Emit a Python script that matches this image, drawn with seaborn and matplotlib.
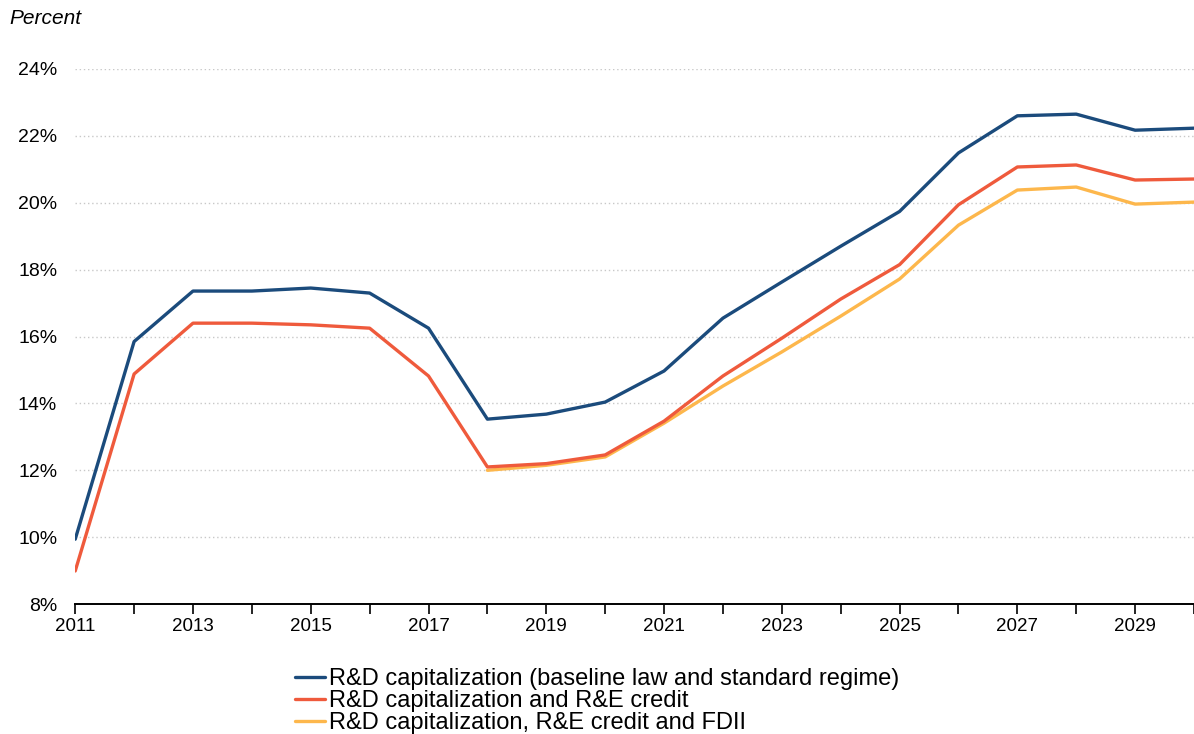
import matplotlib
matplotlib.use("Agg")
import matplotlib.pyplot as plt
from matplotlib.ticker import MultipleLocator, FuncFormatter
import seaborn as sns
import pandas as pd

# Data
years = list(range(2011, 2031))
baseline = [9.94, 15.85, 17.36, 17.36, 17.45, 17.30, 16.25, 13.53, 13.68, 14.04,
            14.97, 16.55, 17.63, 18.70, 19.74, 21.49, 22.60, 22.65, 22.17, 22.23]
re_credit = [8.99, 14.88, 16.40, 16.40, 16.35, 16.25, 14.82, 12.10, 12.20, 12.46,
             13.47, 14.82, 15.95, 17.12, 18.15, 19.94, 21.07, 21.13, 20.68, 20.71]
fdii_years = list(range(2018, 2031))
fdii = [12.00, 12.15, 12.40, 13.41, 14.52, 15.54, 16.61, 17.72, 19.33, 20.38,
        20.47, 19.96, 20.02]
xtick_years = years[::2]

labels = ["R&D capitalization (baseline law and standard regime)",
          "R&D capitalization and R&E credit",
          "R&D capitalization, R&E credit and FDII"]
colors = ["#1B4B7C", "#EF5A3C", "#FDB74C"]

df = pd.concat([
    pd.DataFrame({"year": years, "value": baseline, "series": labels[0]}),
    pd.DataFrame({"year": years, "value": re_credit, "series": labels[1]}),
    pd.DataFrame({"year": fdii_years, "value": fdii, "series": labels[2]}),
])

sns.set_style("white")
plt.rcParams["font.family"] = ["Liberation Sans", "DejaVu Sans"]
plt.rcParams["text.color"] = "black"
plt.rcParams["xtick.color"] = "black"
plt.rcParams["ytick.color"] = "black"

fig = plt.figure(figsize=(11.94, 7.34), dpi=100)
ax = fig.add_axes([0.063, 0.177, 0.937, 0.729])

# draw the FDII line first so the red line sits on top of it
for i in [2, 1, 0]:
    sub = df[df["series"] == labels[i]]
    sns.lineplot(data=sub, x="year", y="value", color=colors[i], linewidth=2.4,
                 label=labels[i], ax=ax, zorder=3 + (2 - i))

ax.set_xlim(2011, 2030)
ax.set_ylim(8, 24)
ax.set_xlabel("")
ax.set_ylabel("")
ax.yaxis.set_major_locator(MultipleLocator(2))
ax.yaxis.set_major_formatter(FuncFormatter(lambda v, p: f"{v:.0f}%"))
ax.set_xticks(xtick_years)
ax.xaxis.set_minor_locator(MultipleLocator(1))
ax.xaxis.set_major_formatter(FuncFormatter(lambda v, p: f"{v:.0f}"))
ax.grid(axis="y", color="#c8c8c8", linestyle=(0, (1, 2)), linewidth=1)
ax.grid(axis="x", visible=False)

for s in ["left", "right", "top"]:
    ax.spines[s].set_visible(False)
ax.spines["bottom"].set_color("black")
ax.spines["bottom"].set_linewidth(1.4)
ax.spines["bottom"].set_zorder(6)

ax.tick_params(axis="x", which="both", direction="out", length=7, width=1.2,
               color="black", bottom=True, labelsize=13.5, pad=3)
ax.tick_params(axis="y", length=0, labelsize=14, pad=13)

fig.text(0.008, 0.975, "Percent", fontsize=15, style="italic", va="center", ha="left")

handles, labs = ax.get_legend_handles_labels()
order = [labs.index(l) for l in labels]
ax.legend([handles[k] for k in order], [labs[k] for k in order],
          loc="upper center", bbox_to_anchor=(0.5, 0.106), bbox_transform=fig.transFigure,
          frameon=False, fontsize=17, labelspacing=0.0, handlelength=1.3,
          handletextpad=0.15, borderpad=0)

fig.savefig("out.png", dpi=100)
